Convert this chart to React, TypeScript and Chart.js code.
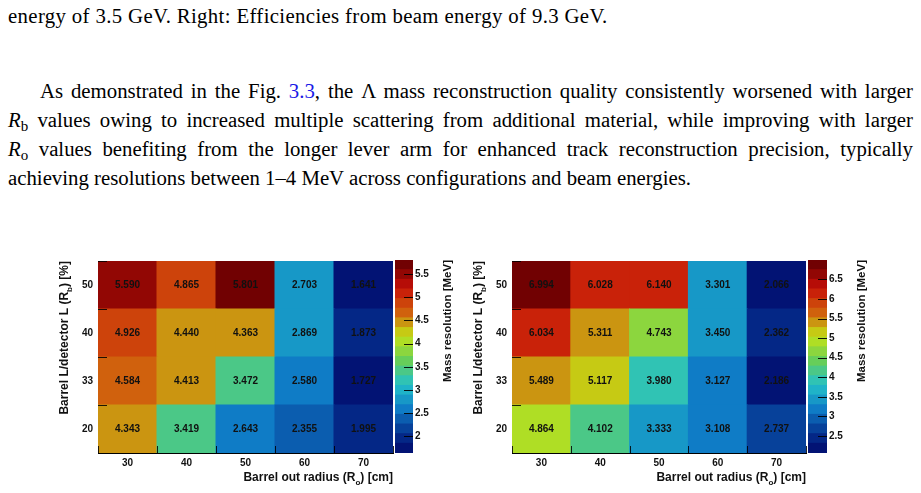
import React, { useEffect, useRef } from 'react';
import { Chart, registerables } from 'chart.js';

Chart.register(...registerables);

// Barrel outer radius R_o [cm] (x bins) and barrel fraction R_b [%] (y bins)
const outerRadii = ['30', '40', '50', '60', '70'];
const barrelFractions = ['20', '33', '40', '50'];

// Lambda mass resolution [MeV], beam energy 3.5 GeV, one row per R_b bin
const res35Rb20 = [4.343, 3.419, 2.643, 2.355, 1.995];
const res35Rb33 = [4.584, 4.413, 3.472, 2.58, 1.727];
const res35Rb40 = [4.926, 4.44, 4.363, 2.869, 1.873];
const res35Rb50 = [5.59, 4.865, 5.801, 2.703, 1.641];

// Lambda mass resolution [MeV], beam energy 9.3 GeV
const res93Rb20 = [4.864, 4.102, 3.333, 3.108, 2.737];
const res93Rb33 = [5.489, 5.117, 3.98, 3.127, 2.186];
const res93Rb40 = [6.034, 5.311, 4.743, 3.45, 2.362];
const res93Rb50 = [6.994, 6.028, 6.14, 3.301, 2.066];

// Colour-bar tick labels
const zTicks35 = [2, 2.5, 3, 3.5, 4, 4.5, 5, 5.5];
const zTicks93 = [2.5, 3, 3.5, 4, 4.5, 5, 5.5, 6, 6.5];

const SANS = '"Liberation Sans", Arial, Helvetica, sans-serif';
const SERIF = '"Liberation Serif", "Times New Roman", Times, serif';
const INK = '#111';

// Rainbow gradient (dark blue -> dark red), 255 colours, 20 contour levels
const STOPS = [0, 0.125, 0.25, 0.375, 0.5, 0.625, 0.75, 0.875, 1];
const RED = [0, 5, 15, 35, 102, 196, 208, 199, 110];
const GREEN = [0, 48, 124, 192, 206, 226, 97, 16, 0];
const BLUE = [99, 142, 198, 201, 90, 22, 13, 8, 2];
const NCOLORS = 255;
const NLEVELS = 20;

function buildPalette(): string[] {
  const out: string[] = [];
  for (let g = 1; g < STOPS.length; g++) {
    const count = Math.floor(NCOLORS * STOPS[g]) - Math.floor(NCOLORS * STOPS[g - 1]);
    for (let c = 0; c < count; c++) {
      const t = c / count;
      const r = Math.round(RED[g - 1] + t * (RED[g] - RED[g - 1]));
      const gg = Math.round(GREEN[g - 1] + t * (GREEN[g] - GREEN[g - 1]));
      const b = Math.round(BLUE[g - 1] + t * (BLUE[g] - BLUE[g - 1]));
      out.push(`rgb(${r},${gg},${b})`);
    }
  }
  return out;
}
const palette = buildPalette();

function levelColor(level: number): string {
  let idx = Math.floor((level + 0.99) * palette.length / NLEVELS);
  if (idx > palette.length - 1) idx = palette.length - 1;
  return palette[idx];
}

function cellColor(v: number, zmin: number, zmax: number): string {
  let level = Math.floor(0.01 + (v - zmin) * NLEVELS / (zmax - zmin));
  if (level > NLEVELS - 1) level = NLEVELS - 1;
  if (level < 0) level = 0;
  return levelColor(level);
}

type Part = { t: string; sub?: boolean };

// Draws bold text with optional subscripts at the current origin (baseline y = 0)
function drawParts(ctx: CanvasRenderingContext2D, parts: Part[], size: number, align: 'left' | 'right') {
  const main = `bold ${size}px ${SANS}`;
  const small = `bold ${Math.round(size * 0.68)}px ${SANS}`;
  const widths = parts.map((p) => {
    ctx.font = p.sub ? small : main;
    return ctx.measureText(p.t).width;
  });
  const total = widths.reduce((a, b) => a + b, 0);
  let x = align === 'right' ? -total : 0;
  ctx.textAlign = 'left';
  ctx.textBaseline = 'alphabetic';
  parts.forEach((p, i) => {
    ctx.font = p.sub ? small : main;
    ctx.fillText(p.t, x, p.sub ? size * 0.32 : 0);
    x += widths[i];
  });
}

const xTitle: Part[] = [{ t: 'Barrel out radius (R' }, { t: 'o', sub: true }, { t: ') [cm]' }];
const yTitle: Part[] = [{ t: 'Barrel L/detector L (R' }, { t: 'b', sub: true }, { t: ') [%]' }];
const zTitle: Part[] = [{ t: 'Mass resolution [MeV]' }];

function heatmapConfig(rows: number[][], padRight: number): any {
  const all = rows.flat();
  const zmin = Math.min(...all);
  const zmax = Math.max(...all);
  const datasets = rows.map((vals, i) => ({
    label: barrelFractions[i],
    data: vals.map(() => [i, i + 1]),
    values: vals,
    backgroundColor: vals.map((v) => cellColor(v, zmin, zmax)),
    borderWidth: 0,
    grouped: false,
    barPercentage: 1,
    categoryPercentage: 1,
    inflateAmount: 0.5,
  }));

  const decorations = {
    id: 'decorations',
    afterDatasetsDraw(chart: any) {
      const ctx = chart.ctx as CanvasRenderingContext2D;
      const area = chart.chartArea;
      const xs = chart.scales.x;
      const ys = chart.scales.y;
      ctx.save();
      // cell values
      ctx.font = `bold 10px ${SANS}`;
      ctx.fillStyle = INK;
      ctx.textAlign = 'center';
      ctx.textBaseline = 'middle';
      chart.data.datasets.forEach((ds: any, d: number) => {
        const meta = chart.getDatasetMeta(d);
        meta.data.forEach((el: any, j: number) => {
          const p = el.getProps(['x', 'y', 'base'], true);
          ctx.fillText(ds.values[j].toFixed(3), p.x, (p.y + p.base) / 2 + 0.5);
        });
      });
      // inward tick marks at bin edges
      ctx.strokeStyle = 'rgba(0,0,0,0.85)';
      ctx.lineWidth = 1;
      ctx.beginPath();
      for (let i = 0; i <= barrelFractions.length; i++) {
        const py = Math.round(ys.getPixelForValue(i)) + 0.5;
        ctx.moveTo(area.left, py);
        ctx.lineTo(area.left + 9, py);
      }
      const step = xs.getPixelForValue(1) - xs.getPixelForValue(0);
      for (let i = 0; i <= outerRadii.length; i++) {
        const px = Math.round(xs.getPixelForValue(i) - step / 2) + 0.5;
        ctx.moveTo(px, area.bottom);
        ctx.lineTo(px, area.bottom - 7);
      }
      ctx.stroke();
      // axis titles
      ctx.fillStyle = INK;
      ctx.save();
      ctx.translate(area.right, area.bottom + 28);
      drawParts(ctx, xTitle, 12, 'right');
      ctx.restore();
      ctx.save();
      ctx.translate(area.left - 30, area.top);
      ctx.rotate(-Math.PI / 2);
      drawParts(ctx, yTitle, 12, 'right');
      ctx.restore();
      ctx.restore();
    },
  };

  const tickFont = { family: SANS, size: 10, weight: 'bold' as const };

  return {
    type: 'bar',
    data: { labels: outerRadii, datasets },
    options: {
      animation: false,
      responsive: false,
      devicePixelRatio: 1,
      events: [],
      layout: { padding: { top: 10, right: padRight, left: 0, bottom: 0 } },
      plugins: { legend: { display: false }, tooltip: { enabled: false } },
      scales: {
        x: {
          type: 'category',
          offset: true,
          grid: { display: false, drawTicks: false },
          border: { display: true, color: '#000', width: 1 },
          ticks: { color: INK, font: tickFont, padding: 4, maxRotation: 0 },
          afterFit: (s: any) => { s.height = 40; },
        },
        y: {
          type: 'linear',
          min: 0,
          max: barrelFractions.length,
          grid: { display: false, drawTicks: false },
          border: { display: true, color: '#000', width: 1 },
          afterBuildTicks: (s: any) => {
            s.ticks = barrelFractions.map((_, i) => ({ value: i + 0.5 }));
          },
          ticks: {
            color: INK,
            font: tickFont,
            padding: 5,
            callback: (v: any) => barrelFractions[Math.floor(Number(v))],
          },
          afterFit: (s: any) => { s.width = 58; },
        },
      },
    },
    plugins: [decorations],
  };
}

function colorbarConfig(rows: number[][], zTicks: number[], axisWidth: number): any {
  const all = rows.flat();
  const zmin = Math.min(...all);
  const zmax = Math.max(...all);
  const levelEdges: number[] = [];
  for (let k = 0; k <= NLEVELS; k++) levelEdges.push(zmin + (k * (zmax - zmin)) / NLEVELS);

  const datasets = [];
  for (let k = 0; k < NLEVELS; k++) {
    datasets.push({
      data: [[levelEdges[k], levelEdges[k + 1]]],
      backgroundColor: levelColor(k),
      borderWidth: 0,
      grouped: false,
      barPercentage: 1,
      categoryPercentage: 1,
      inflateAmount: 0.5,
    });
  }

  const decorations = {
    id: 'colorbarDecorations',
    afterDatasetsDraw(chart: any) {
      const ctx = chart.ctx as CanvasRenderingContext2D;
      const area = chart.chartArea;
      const ys = chart.scales.y;
      ctx.save();
      ctx.strokeStyle = 'rgba(0,0,0,0.9)';
      ctx.lineWidth = 1.2;
      ctx.beginPath();
      zTicks.forEach((v) => {
        const py = Math.round(ys.getPixelForValue(v)) + 0.5;
        ctx.moveTo(area.right - 9, py);
        ctx.lineTo(area.right, py);
      });
      ctx.stroke();
      ctx.fillStyle = INK;
      ctx.translate(area.right + 38, area.top);
      ctx.rotate(-Math.PI / 2);
      drawParts(ctx, zTitle, 11.5, 'right');
      ctx.restore();
    },
  };

  return {
    type: 'bar',
    data: { labels: ['z'], datasets },
    options: {
      animation: false,
      responsive: false,
      devicePixelRatio: 1,
      events: [],
      layout: { padding: { top: 10, bottom: 40, left: 1, right: 0 } },
      plugins: { legend: { display: false }, tooltip: { enabled: false } },
      scales: {
        x: { type: 'category', display: false, offset: true },
        y: {
          type: 'linear',
          position: 'right',
          min: zmin,
          max: zmax,
          grid: { display: false, drawTicks: false },
          border: { display: false },
          afterBuildTicks: (s: any) => {
            s.ticks = zTicks.map((v) => ({ value: v }));
          },
          ticks: {
            color: INK,
            font: { family: SANS, size: 10, weight: 'bold' },
            padding: 2,
            callback: (v: any) => String(v),
          },
          afterFit: (s: any) => { s.width = axisWidth; },
        },
      },
    },
    plugins: [decorations],
  };
}

function ChartCanvas(props: { config: () => any; left: number; top: number; width: number; height: number }) {
  const ref = useRef<HTMLCanvasElement | null>(null);
  useEffect(() => {
    if (!ref.current) return;
    const chart = new Chart(ref.current, props.config());
    return () => chart.destroy();
  }, []);
  return (
    <canvas
      ref={ref}
      width={props.width}
      height={props.height}
      style={{ position: 'absolute', left: props.left, top: props.top, width: props.width, height: props.height }}
    />
  );
}

const rows35 = [res35Rb20, res35Rb33, res35Rb40, res35Rb50];
const rows93 = [res93Rb20, res93Rb33, res93Rb40, res93Rb50];

const lineStyle: React.CSSProperties = {
  textAlign: 'justify',
  textAlignLast: 'justify' as any,
  height: 29,
};

function Sub(props: { children: React.ReactNode }) {
  return <span style={{ fontSize: '0.72em', position: 'relative', top: '0.28em' }}>{props.children}</span>;
}

export default function App() {
  const textBase: React.CSSProperties = {
    position: 'absolute',
    left: 8,
    width: 905,
    fontFamily: SERIF,
    fontSize: 20.8,
    lineHeight: '29px',
    color: '#000',
  };
  return (
    <div style={{ position: 'absolute', left: 0, top: 0, width: 921, height: 493, background: '#fff', overflow: 'hidden' }}>
      <div style={{ ...textBase, top: 1, whiteSpace: 'nowrap', letterSpacing: '0.35px' }}>
        energy of 3.5 GeV. Right: Efficiencies from beam energy of 9.3 GeV.
      </div>
      <div style={{ ...textBase, top: 76 }}>
        <div style={{ ...lineStyle, paddingLeft: 32 }}>
          As demonstrated in the Fig. <span style={{ color: '#1a1ae6' }}>3.3</span>, the Λ mass reconstruction quality consistently worsened with larger
        </div>
        <div style={lineStyle}>
          <i>R</i><Sub>b</Sub> values owing to increased multiple scattering from additional material, while improving with larger
        </div>
        <div style={lineStyle}>
          <i>R</i><Sub>o</Sub> values benefiting from the longer lever arm for enhanced track reconstruction precision, typically
        </div>
        <div style={{ height: 29 }}>
          achieving resolutions between 1–4 MeV across configurations and beam energies.
        </div>
      </div>

      <ChartCanvas config={() => heatmapConfig(rows35, 7)} left={40} top={250} width={360} height={243} />
      <ChartCanvas config={() => colorbarConfig(rows35, zTicks35, 61)} left={394} top={250} width={80} height={243} />
      <ChartCanvas config={() => heatmapConfig(rows93, 8)} left={454} top={250} width={360} height={243} />
      <ChartCanvas config={() => colorbarConfig(rows93, zTicks93, 60)} left={807} top={250} width={80} height={243} />
    </div>
  );
}
